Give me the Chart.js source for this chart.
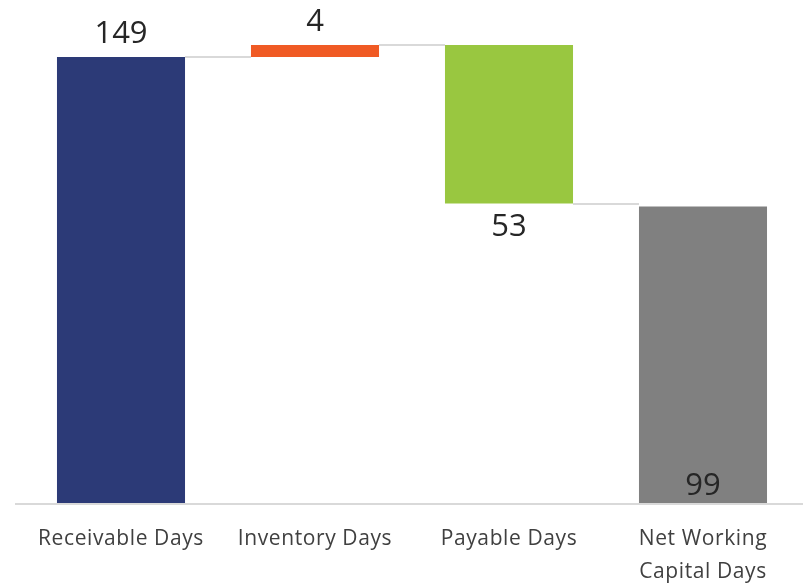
<!DOCTYPE html>
<html>
<head>
<meta charset="utf-8">
<script src="https://cdn.jsdelivr.net/npm/chart.js@4.4.1/dist/chart.umd.min.js"></script>
<style>
  html, body { margin: 0; padding: 0; background: #fff; }
  #wrap { width: 808px; height: 584px; }
</style>
</head>
<body>
<div id="wrap"><canvas id="chart" width="808" height="584"></canvas></div>
<script>
// working capital bridge
const categories = [["Receivable Days"], ["Inventory Days"], ["Payable Days"], ["Net Working", "Capital Days"]];
const steps = [149, 4, -53];
const netDays = 99;
const barColors = ["#2c3a77", "#f05a24", "#99c740", "#808080"];

// floating ranges: running total for the steps, total bar from zero
let running = 0;
const ranges = steps.map((v) => {
  const from = running;
  running += v;
  return [Math.min(from, running), Math.max(from, running)];
});
ranges.push([0, netDays]);
const labelValues = steps.map((v) => Math.abs(v)).concat([netDays]);

const bridgePlugin = {
  id: "bridge",
  beforeDraw(chart) {
    // slightly tracked axis labels
    chart.ctx.letterSpacing = "0.6px";
  },
  beforeDatasetsDraw(chart) {
    chart.ctx.letterSpacing = "0px";
  },
  afterDatasetsDraw(chart) {
    const ctx = chart.ctx;
    const y = chart.scales.y;
    const bars = chart.getDatasetMeta(0).data;
    ctx.save();

    // baseline
    ctx.strokeStyle = "#d9d9d9";
    ctx.lineWidth = 2;
    ctx.beginPath();
    ctx.moveTo(15, y.getPixelForValue(0) + 1);
    ctx.lineTo(803, y.getPixelForValue(0) + 1);
    ctx.stroke();

    // connectors between bars
    let level = 0;
    for (let i = 0; i < steps.length; i++) {
      level += steps[i];
      const a = bars[i], b = bars[i + 1];
      const py = Math.round(y.getPixelForValue(level));
      ctx.beginPath();
      ctx.moveTo(a.x + a.width / 2, py);
      ctx.lineTo(b.x - b.width / 2, py);
      ctx.stroke();
    }

    // value labels
    ctx.fillStyle = "#262626";
    ctx.font = "31px 'Open Sans', sans-serif";
    ctx.textAlign = "center";
    ctx.textBaseline = "middle";
    bars.forEach((bar, i) => {
      const top = Math.min(bar.y, bar.base);
      const bottom = Math.max(bar.y, bar.base);
      let ly;
      if (i === bars.length - 1) ly = bottom - 17;
      else if (steps[i] < 0) ly = bottom + 24;
      else ly = top - 23;
      ctx.fillText(String(labelValues[i]), bar.x, ly);
    });
    ctx.restore();
  }
};

new Chart(document.getElementById("chart"), {
  type: "bar",
  data: {
    labels: categories,
    datasets: [{
      data: ranges,
      backgroundColor: barColors,
      borderWidth: 0,
      categoryPercentage: 1,
      barPercentage: 0.66
    }]
  },
  options: {
    responsive: false,
    animation: false,
    layout: { padding: { left: 24, right: 8, top: 0, bottom: 0 } },
    plugins: { legend: { display: false }, tooltip: { enabled: false } },
    scales: {
      x: {
        grid: { display: false, drawTicks: false },
        border: { display: false },
        ticks: {
          color: "#404040",
          font: { family: "'Open Sans', sans-serif", size: 21, lineHeight: 1.55 },
          padding: 20,
          maxRotation: 0
        },
        afterFit(scale) { scale.height = 81; }
      },
      y: {
        display: false,
        min: 0,
        max: 168
      }
    }
  },
  plugins: [bridgePlugin]
});
</script>
</body>
</html>
